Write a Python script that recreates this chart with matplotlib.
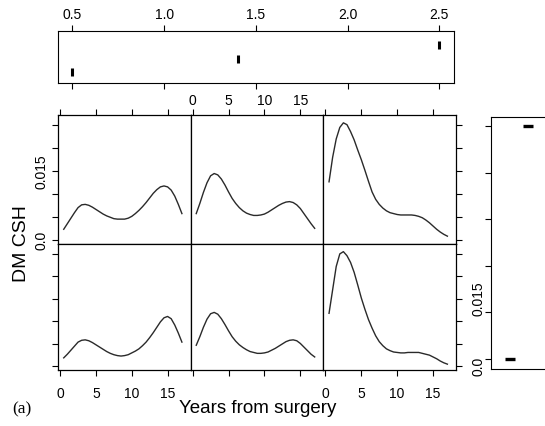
import numpy as np
import matplotlib.pyplot as plt

plt.rcParams['font.family'] = ['Liberation Sans', 'DejaVu Sans']

years = [0.5, 1.0, 1.5, 2.0, 2.5, 3.0, 3.5, 4.0, 4.5, 5.0, 5.5, 6.0, 6.5, 7.0, 7.5, 8.0, 8.5,
         9.0, 9.5, 10.0, 10.5, 11.0, 11.5, 12.0, 12.5, 13.0, 13.5, 14.0, 14.5, 15.0, 15.5,
         16.0, 16.5, 17.0]

# top row
haz_top_left = [0.0024, 0.0036, 0.0048, 0.0060, 0.0071, 0.0077, 0.0078, 0.0076, 0.0072, 0.0067,
                0.0062, 0.0057, 0.0053, 0.0050, 0.0047, 0.0046, 0.0046, 0.0046, 0.0048, 0.0052,
                0.0058, 0.0065, 0.0073, 0.0082, 0.0092, 0.0102, 0.0110, 0.0116, 0.0118, 0.0116,
                0.0109, 0.0096, 0.0078, 0.0058]
haz_top_mid = [0.0058, 0.0080, 0.0104, 0.0125, 0.0140, 0.0145, 0.0142, 0.0133, 0.0120, 0.0105,
               0.0091, 0.0080, 0.0071, 0.0064, 0.0059, 0.0056, 0.0054, 0.0054, 0.0055, 0.0057,
               0.0061, 0.0066, 0.0071, 0.0076, 0.0080, 0.0083, 0.0084, 0.0082, 0.0077, 0.0069,
               0.0058, 0.0047, 0.0036, 0.0026]
haz_top_right = [0.0127, 0.0180, 0.0220, 0.0245, 0.0255, 0.0251, 0.0236, 0.0218, 0.0196, 0.0175,
                 0.0152, 0.0128, 0.0105, 0.0089, 0.0078, 0.0070, 0.0064, 0.0060, 0.0058, 0.0056,
                 0.0055, 0.0055, 0.0055, 0.0055, 0.0054, 0.0052, 0.0049, 0.0044, 0.0038, 0.0031,
                 0.0024, 0.0018, 0.0013, 0.0009]
# bottom row
haz_bot_left = [0.0019, 0.0027, 0.0036, 0.0045, 0.0054, 0.0058, 0.0059, 0.0057, 0.0053, 0.0048,
                0.0043, 0.0038, 0.0033, 0.0029, 0.0026, 0.0024, 0.0023, 0.0024, 0.0026, 0.0030,
                0.0034, 0.0039, 0.0046, 0.0054, 0.0064, 0.0075, 0.0087, 0.0099, 0.0108, 0.0111,
                0.0106, 0.0092, 0.0074, 0.0054]
haz_bot_mid = [0.0047, 0.0066, 0.0087, 0.0105, 0.0117, 0.0120, 0.0116, 0.0106, 0.0093, 0.0079,
               0.0066, 0.0056, 0.0048, 0.0042, 0.0037, 0.0033, 0.0031, 0.0029, 0.0029, 0.0030,
               0.0032, 0.0036, 0.0040, 0.0045, 0.0050, 0.0055, 0.0058, 0.0059, 0.0057, 0.0051,
               0.0043, 0.0035, 0.0027, 0.0021]
haz_bot_right = [0.0118, 0.0170, 0.0222, 0.0250, 0.0255, 0.0246, 0.0231, 0.0209, 0.0181, 0.0152,
                 0.0127, 0.0104, 0.0085, 0.0068, 0.0055, 0.0046, 0.0039, 0.0035, 0.0032, 0.0031,
                 0.0030, 0.0030, 0.0031, 0.0031, 0.0031, 0.0031, 0.0029, 0.0027, 0.0025, 0.0021,
                 0.0017, 0.0012, 0.0008, 0.0005]

# top strip: conditioning values
cond_x = [0.5, 1.4, 2.5]
cond_y = [0.21, 0.45, 0.73]
# right strip
side_x = [0.26, 0.51]
side_y = [0.0, 5.0]

W, H = 545, 426
fig = plt.figure(figsize=(W / 100, H / 100), dpi=100)


def box(x0, y0, x1, y1):
    # pixel box (top-left origin) -> figure fraction
    return [x0 / W, 1 - y1 / H, (x1 - x0) / W, (y1 - y0) / H]


tick_kw = dict(direction='out', length=4, width=0.8, labelsize=10, colors='black')
curve_col = '#2a2a2a'

# ---- top strip
ax = fig.add_axes(box(57.7, 30.7, 454, 83))
ax.plot(cond_x, cond_y, ls='none', marker='|', ms=6, mew=2.2, color='black')
ax.set_xlim(0.42, 2.58)
ax.set_ylim(0, 1)
ax.set_xticks([0.5, 1.0, 1.5, 2.0, 2.5])
ax.set_xticklabels(['0.5', '1.0', '1.5', '2.0', '2.5'])
ax.set_yticks([])
ax.tick_params(axis='x', top=True, bottom=True, labeltop=True, labelbottom=False,
               pad=2, **tick_kw)

# ---- grid of hazard panels
cols = [58, 190.5, 323.3, 456]
rows = [115, 244, 370]
data = [[haz_top_left, haz_top_mid, haz_top_right],
        [haz_bot_left, haz_bot_mid, haz_bot_right]]
yt = [0, 0.005, 0.010, 0.015, 0.020, 0.025]
ytl = ['0.0', '', '', '0.015', '', '']

for r in range(2):
    for c in range(3):
        ax = fig.add_axes(box(cols[c], rows[r], cols[c + 1], rows[r + 1]))
        ax.plot(years, data[r][c], color=curve_col, lw=1.0)
        ax.set_xlim(-0.3, 18.2)
        ax.set_ylim(-0.0008, 0.0272)
        ax.set_xticks([0, 5, 10, 15])
        ax.set_yticks(yt)
        ax.set_yticklabels(ytl, rotation=90, va='center')
        for s in ax.spines.values():
            s.set_linewidth(0.9)
        ax.tick_params(**tick_kw)
        if r == 0:
            ax.tick_params(axis='x', top=True, bottom=False, labelbottom=False,
                           labeltop=(c == 1), pad=1)
        else:
            ax.tick_params(axis='x', top=False, bottom=True, labeltop=False,
                           labelbottom=(c != 1), pad=8)
        if c == 0:
            ax.tick_params(axis='y', left=True, right=False, labelleft=(r == 0),
                           labelright=False, pad=3)
        elif c == 2:
            ax.tick_params(axis='y', left=False, right=True, labelleft=False,
                           labelright=(r == 1), pad=7.5)
        else:
            ax.tick_params(axis='y', left=False, right=False, labelleft=False,
                           labelright=False)

# ---- right strip (runs off the page edge)
ax = fig.add_axes(box(490.5, 116.7, 565, 369.3))
ax.plot(side_x, side_y, ls='none', marker='_', ms=7, mew=2.4, color='black')
ax.set_xlim(0, 1)
ax.set_ylim(-0.22, 5.2)
ax.set_xticks([])
ax.set_yticks([0, 1, 2, 3, 4, 5])
ax.set_yticklabels([])
ax.tick_params(axis='y', **tick_kw)

fig.text(22 / W, 1 - 244 / H, 'DM CSH', rotation=90, ha='center', va='center', fontsize=14)
fig.text(258 / W, 1 - 413 / H, 'Years from surgery', ha='center', va='baseline', fontsize=13.5)
fig.text(22 / W, 1 - 413 / H, '(a)', ha='center', va='baseline', fontsize=12.5,
         family=['Liberation Serif', 'DejaVu Serif'])

fig.savefig('out.png', dpi=100)
